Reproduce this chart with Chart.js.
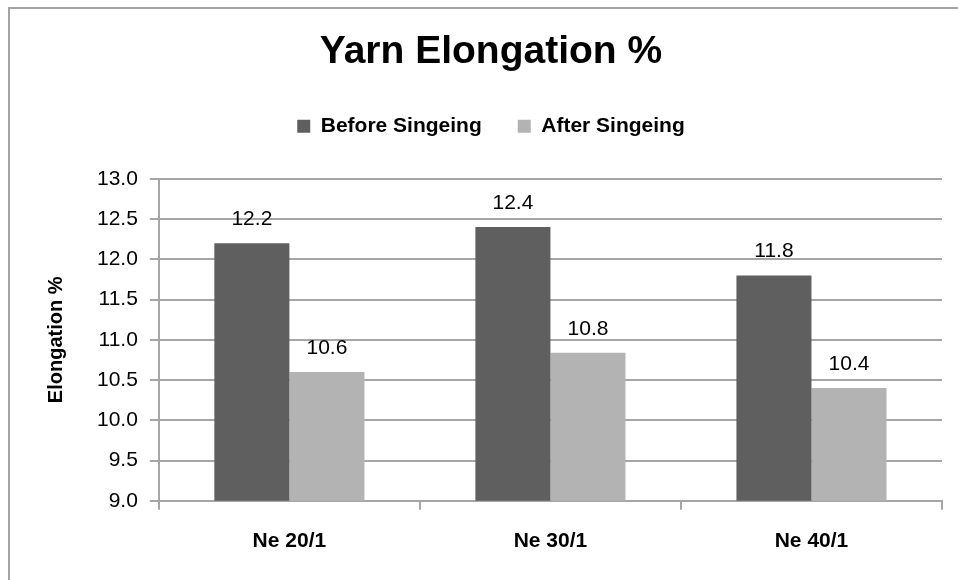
<!DOCTYPE html>
<html>
<head>
<meta charset="utf-8">
<script src="https://cdn.jsdelivr.net/npm/chart.js@4.4.1/dist/chart.umd.min.js"></script>
<style>
    html, body { margin: 0; padding: 0; background: #fff; overflow: hidden; }
    #wrap { position: relative; width: 958px; height: 580px; }
    #frame {
        position: absolute; left: 8px; top: 7px; width: 1000px; height: 700px;
        border-left: 2px solid #a3a3a3; border-top: 2px solid #a3a3a3;
        pointer-events: none;
    }
    canvas { position: absolute; left: 0; top: 0; }
</style>
</head>
<body>
<div id="wrap">
    <canvas id="canvas" width="958" height="580"></canvas>
    <div id="frame"></div>
</div>
<script>
// chart data
const categories = ["Ne 20/1", "Ne 30/1", "Ne 40/1"];
const beforeSingeing = [12.2, 12.4, 11.8];
const afterSingeing = [10.6, 10.84, 10.4];
const seriesNames = ["Before Singeing", "After Singeing"];

const colors = {
    before: "#5f5f5f",
    after: "#b3b3b3",
    grid: "#a6a6a6",
    text: "#000000"
};
const FONT = "'Liberation Sans', Arial, sans-serif";

// value labels above each bar
const barLabels = {
    id: 'barLabels',
    afterDatasetsDraw(chart) {
        const ctx = chart.ctx;
        ctx.save();
        ctx.font = "21px " + FONT;
        ctx.fillStyle = colors.text;
        ctx.textAlign = 'center';
        ctx.textBaseline = 'alphabetic';
        chart.data.datasets.forEach((ds, i) => {
            chart.getDatasetMeta(i).data.forEach((bar, j) => {
                ctx.fillText(ds.data[j].toFixed(1), bar.x, bar.y - 18);
            });
        });
        ctx.restore();
    }
};

// extra room between legend and plot
const legendGap = {
    id: 'legendGap',
    beforeInit(chart) {
        const fit = chart.legend.fit;
        chart.legend.fit = function() {
            fit.bind(chart.legend)();
            this.height += 32;
        };
    }
};

const ctx = document.getElementById("canvas").getContext("2d");

new Chart(ctx, {
    type: 'bar',
    data: {
        labels: categories,
        datasets: [{
            label: seriesNames[0],
            data: beforeSingeing,
            backgroundColor: colors.before,
            categoryPercentage: 0.575,
            barPercentage: 1
        }, {
            label: seriesNames[1],
            data: afterSingeing,
            backgroundColor: colors.after,
            categoryPercentage: 0.575,
            barPercentage: 1
        }]
    },
    options: {
        responsive: false,
        animation: false,
        layout: {
            padding: { left: 40, right: 16, top: 8, bottom: 7 }
        },
        plugins: {
            title: {
                display: true,
                text: "Yarn Elongation %",
                color: colors.text,
                font: { family: FONT, size: 39, weight: 'bold' },
                padding: { top: 21, bottom: 4 }
            },
            legend: {
                display: true,
                position: 'top',
                labels: {
                    boxWidth: 13,
                    boxHeight: 13,
                    padding: 36,
                    color: colors.text,
                    font: { family: FONT, size: 21, weight: 'bold' }
                }
            },
            tooltip: { enabled: false }
        },
        scales: {
            x: {
                grid: {
                    offset: true,
                    drawOnChartArea: false,
                    drawTicks: true,
                    tickLength: 9,
                    color: colors.grid,
                    lineWidth: 2
                },
                border: { display: true, color: colors.grid, width: 2 },
                ticks: {
                    color: colors.text,
                    padding: 19,
                    font: { family: FONT, size: 21, weight: 'bold' }
                }
            },
            y: {
                min: 9,
                max: 13,
                grid: {
                    color: colors.grid,
                    lineWidth: 2,
                    drawTicks: true,
                    tickLength: 9
                },
                border: { display: true, color: colors.grid, width: 2 },
                ticks: {
                    stepSize: 0.5,
                    padding: 12,
                    color: colors.text,
                    font: { family: FONT, size: 21 },
                    callback: function(value) { return Number(value).toFixed(1); }
                },
                title: {
                    display: true,
                    text: "Elongation %",
                    color: colors.text,
                    font: { family: FONT, size: 20, weight: 'bold' },
                    padding: { top: 4, bottom: 17 }
                }
            }
        }
    },
    plugins: [barLabels, legendGap]
});
</script>
</body>
</html>
